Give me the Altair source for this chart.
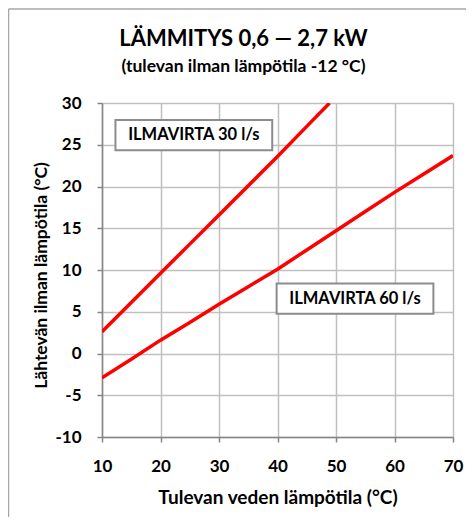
import altair as alt
import pandas as pd

# --- data ---
x_30 = [10, 15, 20, 25, 30, 35, 40, 45, 48.9]
y_30 = [2.6, 6.1, 9.6, 13.1, 16.6, 20.1, 23.6, 27.2, 30.0]
x_60 = [10, 15, 20, 25, 30, 35, 40, 45, 50, 55, 60, 65, 70]
y_60 = [-2.9, -0.7, 1.6, 3.7, 5.9, 8.0, 10.1, 12.4, 14.7, 17.0, 19.3, 21.5, 23.7]
series_names = ["ILMAVIRTA 30 l/s", "ILMAVIRTA 60 l/s"]
label_x = [25.7, 53.25]
label_y = [26.15, 6.57]

x_ticks = [10, 15, 20, 25, 30, 35, 40, 45, 50, 55, 60, 65, 70]
y_ticks = [-10, -5, 0, 5, 10, 15, 20, 25, 30]

title_text = "LÄMMITYS 0,6 — 2,7 kW"
subtitle_text = "(tulevan ilman lämpötila -12 °C)"
x_title = "Tulevan veden lämpötila (°C)"
y_title = "Lähtevän ilman lämpötila (°C)"

lines = pd.DataFrame(
    {"x": x_30 + x_60,
     "y": y_30 + y_60,
     "s": [series_names[0]] * len(x_30) + [series_names[1]] * len(x_60)}
)
labels = pd.DataFrame({"name": series_names, "lx": label_x, "ly": label_y})

FONT = "Lato"
GRID = "#C0C0C0"
AXIS = "#868686"

xs = alt.Scale(domain=[10, 70], nice=False)
ys = alt.Scale(domain=[-10, 30], nice=False)

x_axis = alt.Axis(
    values=x_ticks, title=x_title,
    labelExpr="datum.value % 10 === 0 ? '' + datum.value : ''",
    tickOpacity={"condition": {"test": "datum.value % 10 !== 0", "value": 0}, "value": 1},
    grid=True, gridColor=GRID, gridWidth=1.5,
    domainColor=AXIS, domainWidth=1.5, tickColor=AXIS, tickWidth=1.5, tickSize=5,
    labelFont=FONT, labelFontSize=17, labelFontWeight="bold", labelColor="black",
    labelPadding=29, labelBaseline="alphabetic", labelFlush=False, labelOverlap=False,
    titleFont=FONT, titleFontSize=19, titleFontWeight="bold", titleColor="black",
    titleY=66, titleBaseline="alphabetic",
)
y_axis = alt.Axis(
    values=y_ticks, title=y_title,
    labelExpr="'' + datum.value",
    grid=True, gridColor=GRID, gridWidth=1.5,
    domainColor=AXIS, domainWidth=1.5, tickColor=AXIS, tickWidth=1.5, tickSize=5,
    labelFont=FONT, labelFontSize=17, labelFontWeight="bold", labelColor="black",
    labelPadding=16, labelFlush=False, labelOverlap=False,
    titleFont=FONT, titleFontSize=17.5, titleFontWeight="bold", titleColor="black",
    titleX=-52, titleY=172,
)

line_layer = alt.Chart(lines).mark_line(color="#FF0000", strokeWidth=3.5, clip=True).encode(
    x=alt.X("x:Q", scale=xs, axis=x_axis),
    y=alt.Y("y:Q", scale=ys, axis=y_axis),
    detail="s:N",
)

box_layer = alt.Chart(labels).transform_calculate(
    x1="datum.lx - 13.4", x2="datum.lx + 13.4",
    y1="datum.ly - 1.8", y2="datum.ly + 1.8",
).mark_rect(fill="white", stroke="#8C8C8C", strokeWidth=2).encode(
    x=alt.X("x1:Q", scale=xs), x2="x2:Q",
    y=alt.Y("y1:Q", scale=ys), y2="y2:Q",
)

text_layer = alt.Chart(labels).mark_text(
    font=FONT, fontSize=16.5, fontWeight="bold", color="black",
    align="center", baseline="middle",
).encode(
    x=alt.X("lx:Q", scale=xs), y=alt.Y("ly:Q", scale=ys), text="name:N"
)

frame = pd.DataFrame({"k": [0]})
frame_top = alt.Chart(frame).mark_rule(color="#A6A6A6", strokeWidth=1.5).encode(
    x=alt.value(-93.5), x2=alt.value(364), y=alt.value(-94)
)
frame_left = alt.Chart(frame).mark_rule(color="#A6A6A6", strokeWidth=1.5).encode(
    x=alt.value(-93.5), y=alt.value(-94), y2=alt.value(414)
)

chart = alt.layer(line_layer, box_layer, text_layer, frame_top, frame_left).properties(
    width=351, height=334,
    title=alt.TitleParams(
        text=title_text, subtitle=subtitle_text, anchor="middle", dx=-34,
        font=FONT, fontSize=22, fontWeight="bold", color="black",
        subtitleFont=FONT, subtitleFontSize=17.5, subtitleFontWeight="bold",
        subtitleColor="black", subtitlePadding=7, offset=-68,
    ),
    autosize=alt.AutoSizeParams(type="none"),
    padding={"left": 94, "top": 95, "right": 13, "bottom": 80},
).configure_view(
    fill="#EBF1DE", stroke="#9A9A9A", strokeWidth=1.5
).configure(background="white")

chart.save("out.html", embed_options={"renderer": "svg", "actions": False})
